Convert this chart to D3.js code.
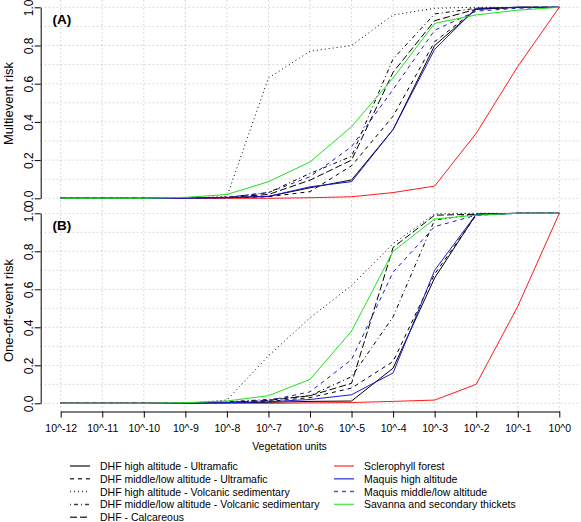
<!DOCTYPE html>
<html><head><meta charset="utf-8">
<script src="https://cdn.jsdelivr.net/npm/d3@7"></script>
<style>
body{margin:0;background:#fff;}
svg{display:block;font-family:"Liberation Sans",Arial,sans-serif;}
</style></head>
<body><svg id="c" width="581" height="522"></svg>
<script>
const xExponents = [-12,-11,-10,-9,-8,-7,-6,-5,-4,-3,-2,-1,0];
const xTickLabels = ["10^-12","10^-11","10^-10","10^-9","10^-8","10^-7","10^-6","10^-5","10^-4","10^-3","10^-2","10^-1","10^0"];
const yTicks = [0,0.2,0.4,0.6,0.8,1.0];
const seriesNames = ["DHF high altitude - Ultramafic","DHF middle/low altitude - Ultramafic","DHF high altitude - Volcanic sedimentary","DHF middle/low altitude - Volcanic sedimentary","DHF - Calcareous","Sclerophyll forest","Maquis high altitude","Maquis middle/low altitude","Savanna and secondary thickets"];
const seriesColors = ["#000000","#000000","#000000","#000000","#000000","#ff1a1a","#1a1ad0","#1a1ad0","#1ee01e"];
const seriesDash = [null,"4,4","1,3","1,3,4,3","7,3",null,null,"4,4",null];

// Panel A: Multievent risk
const multiHAUltramafic   = [0,0,0,0,0.003,0.01,0.055,0.096,0.36,0.80,0.99,1,1];
const multiMLUltramafic   = [0,0,0,0,0.002,0.008,0.035,0.17,0.43,0.82,0.99,1,1];
const multiHAVolcanic     = [0,0,0,0,0.01,0.63,0.77,0.80,0.96,0.995,1,1,1];
const multiMLVolcanic     = [0,0,0,0,0.005,0.03,0.13,0.22,0.73,0.965,0.995,1,1];
const multiCalcareous     = [0,0,0,0,0.005,0.02,0.095,0.20,0.66,0.93,0.99,1,1];
const multiSclerophyll    = [0,0,0,0,0,0,0.003,0.008,0.03,0.064,0.34,0.69,1];
const multiMaquisHA       = [0,0,0,0,0.003,0.01,0.06,0.087,0.36,0.78,0.995,1,1];
const multiMaquisML       = [0,0,0,0,0.005,0.03,0.113,0.27,0.57,0.88,0.98,0.995,1];
const multiSavanna        = [0,0,0,0.005,0.02,0.087,0.19,0.375,0.63,0.916,0.96,0.985,1];

// Panel B: One-off-event risk
const oneHAUltramafic   = [0,0,0,0,0.003,0.005,0.01,0.012,0.185,0.66,0.995,1,1];
const oneMLUltramafic   = [0,0,0,0,0.005,0.01,0.03,0.08,0.22,0.68,0.99,1,1];
const oneHAVolcanic     = [0,0,0,0,0.017,0.25,0.45,0.62,0.84,0.997,1,1,1];
const oneMLVolcanic     = [0,0,0,0,0.008,0.02,0.04,0.14,0.455,0.965,0.995,1,1];
const oneCalcareous     = [0,0,0,0,0.005,0.015,0.04,0.105,0.82,0.99,0.995,1,1];
const oneSclerophyll    = [0,0,0,0,0,0,0.002,0.004,0.01,0.017,0.10,0.51,1];
const oneMaquisHA       = [0,0,0,0,0.003,0.008,0.02,0.045,0.16,0.70,0.995,1,1];
const oneMaquisML       = [0,0,0,0,0.005,0.015,0.06,0.23,0.69,0.93,0.99,1,1];
const oneSavanna        = [0,0,0,0.003,0.012,0.04,0.126,0.38,0.80,0.97,0.99,1,1];

const panels = [
  {label:"(A)", title:"Multievent risk", yRange:[198.3,7.3], region:[0,206], titleY:103.5,
   data:[multiHAUltramafic,multiMLUltramafic,multiHAVolcanic,multiMLVolcanic,multiCalcareous,multiSclerophyll,multiMaquisHA,multiMaquisML,multiSavanna]},
  {label:"(B)", title:"One-off-event risk", yRange:[403.3,213.3], region:[206,411.5], titleY:310.5,
   data:[oneHAUltramafic,oneMLUltramafic,oneHAVolcanic,oneMLVolcanic,oneCalcareous,oneSclerophyll,oneMaquisHA,oneMaquisML,oneSavanna]}
];

const svg = d3.select("#c");
const x = d3.scaleLinear().domain([-12,0]).range([60.7,559.3]);
const plotLeft = 40.7, plotRight = 579.3;
const gridY = d3.range(0,11).map(d=>d/10);

panels.forEach((p,pi)=>{
  const y = d3.scaleLinear().domain([0,1]).range(p.yRange);
  const g = svg.append("g");
  // grid
  g.selectAll(".vg").data(xExponents).enter().append("line")
    .attr("x1",d=>x(d)).attr("x2",d=>x(d)).attr("y1",p.region[0]).attr("y2",p.region[1])
    .attr("stroke","#cfcfcf").attr("stroke-width",1).attr("stroke-dasharray","1.5,2.5");
  g.selectAll(".hg").data(gridY).enter().append("line")
    .attr("x1",plotLeft).attr("x2",plotRight).attr("y1",d=>y(d)).attr("y2",d=>y(d))
    .attr("stroke","#cfcfcf").attr("stroke-width",1).attr("stroke-dasharray","1.5,2.5");
  // lines
  const line = d3.line().x((d,i)=>x(xExponents[i])).y(d=>y(d));
  p.data.forEach((vals,si)=>{
    g.append("path").datum(vals).attr("d",line).attr("fill","none")
      .attr("stroke",seriesColors[si]).attr("stroke-width",1)
      .attr("stroke-dasharray",seriesDash[si]);
  });
  // y axis
  const ya = g.append("g").attr("transform",`translate(${plotLeft},0)`)
    .call(d3.axisLeft(y).tickValues(yTicks).tickFormat(d3.format(".1f")).tickSize(6).tickSizeOuter(0).tickPadding(0));
  ya.select(".domain").attr("stroke","#000");
  ya.selectAll(".tick line").attr("stroke","#000");
  ya.selectAll(".tick text").attr("x",0).attr("dy",null).attr("text-anchor","middle")
    .attr("transform","translate(-7.5,0) rotate(-90)")
    .attr("font-size","12px").attr("fill","#000").attr("font-family","Liberation Sans, Arial, sans-serif");
  // y title
  svg.append("text").attr("transform",`translate(12.5,${p.titleY}) rotate(-90)`)
    .attr("text-anchor","middle").attr("font-size","13px").text(p.title);
  // panel label
  svg.append("text").attr("x",52.5).attr("y",p.yRange[1]+17).attr("font-weight","bold")
    .attr("font-size","13.5px").text(p.label);
});

// x axis
const xa = svg.append("g").attr("transform","translate(0,411.5)")
  .call(d3.axisBottom(x).tickValues(xExponents).tickFormat((d,i)=>xTickLabels[i]).tickSize(6).tickSizeOuter(0).tickPadding(7));
xa.select(".domain").attr("stroke","#000");
xa.selectAll(".tick line").attr("stroke","#000");
xa.selectAll(".tick text").attr("font-size","10.5px").attr("fill","#000").attr("font-family","Liberation Sans, Arial, sans-serif");

svg.append("text").attr("x",289.5).attr("y",450).attr("text-anchor","middle").attr("font-size","10.5px").text("Vegetation units");

// legend
const legRowY = [466,478.8,491.6,504.4,517.2];
const legCols = [{lx:70,tx:100},{lx:334,tx:364}];
seriesNames.forEach((name,i)=>{
  const col = i<5?0:1, row = i<5?i:i-5;
  const c = legCols[col], yy = legRowY[row];
  svg.append("line").attr("x1",c.lx).attr("x2",c.lx+20).attr("y1",yy).attr("y2",yy)
    .attr("stroke",seriesColors[i]).attr("stroke-width",1.5).attr("stroke-opacity",0.75)
    .attr("stroke-dasharray",seriesDash[i]);
  svg.append("text").attr("x",c.tx).attr("y",yy+4).attr("font-size","10.5px").text(name);
});
</script></body></html>
